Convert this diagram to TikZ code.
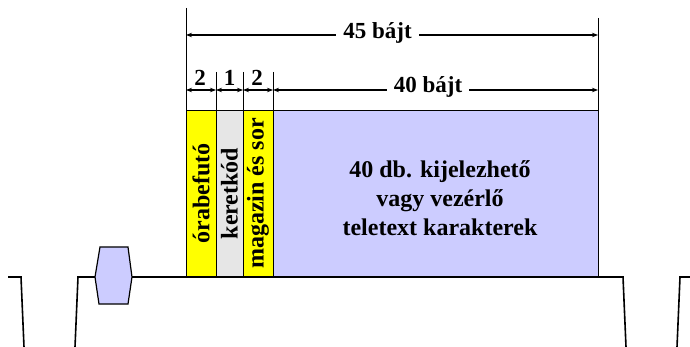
\documentclass[tikz,border=0pt]{standalone}
\usepackage{fontspec}
\setmainfont{Liberation Serif}
\usetikzlibrary{arrows.meta}
\definecolor{lav}{RGB}{204,204,255}
\definecolor{yel}{RGB}{255,255,0}
\definecolor{gry}{RGB}{230,230,230}
\newcommand\dimfont{\bfseries\fontsize{23}{26}\selectfont}
\newcommand\boxfont{\bfseries\fontsize{24}{29}\selectfont}
\newcommand\rotfont{\bfseries\fontsize{24}{26}\selectfont}
\tikzset{
  field/.style={draw=black, line width=0.8pt, inner sep=0pt, font=\rotfont},
  dimline/.style={line width=1.3pt, {Stealth[length=6pt,width=4.5pt]}-{Stealth[length=6pt,width=4.5pt]}},
  extline/.style={line width=0.6pt},
  dimlabel/.style={fill=white, inner xsep=7pt, inner ysep=1pt, font=\dimfont},
  smalllabel/.style={inner sep=0pt, font=\dimfont},
  wave/.style={line width=1.6pt},
}
\begin{document}
\begin{tikzpicture}[x=1pt, y=-1pt]
\useasboundingbox (0,0) rectangle (690,347);
% fields
\node[field, fill=yel, rotate=90, minimum width=167pt, minimum height=30pt] (f1) at (201,193.5) {órabefutó};
\node[field, fill=gry, rotate=90, minimum width=167pt, minimum height=27pt] (f2) at (229.5,193.5) {keretkód};
\node[field, fill=yel, rotate=90, minimum width=167pt, minimum height=30pt] (f3) at (258,193.5) {magazin és sor};
\node[field, fill=lav, minimum width=325pt, minimum height=167pt] (f4) at (435.5,193.5) {};
\node[align=center, font=\boxfont, inner sep=0pt] (t4) at (440,198) {40 db. kijelezhető\\vagy vezérlő\\teletext karakterek};
% extension lines
\coordinate (e0t) at (186,8);   \coordinate (e0b) at (186,110);
\coordinate (e1t) at (216,72);  \coordinate (e1b) at (216,110);
\coordinate (e2t) at (243,72);  \coordinate (e2b) at (243,110);
\coordinate (e3t) at (273,72);  \coordinate (e3b) at (273,110);
\coordinate (e4t) at (598,18);  \coordinate (e4b) at (598,110);
\foreach \i in {0,...,4} \draw[extline] (e\i t) -- (e\i b);
% dimension arrows
\coordinate (a45l) at (186,35); \coordinate (a45r) at (598,35);
\draw[dimline] (a45l) -- (a45r);
\node[dimlabel] (l45) at (377.5,33) {45 bájt};
\coordinate (b0) at (186,90); \coordinate (b1) at (216,90);
\coordinate (b2) at (243,90); \coordinate (b3) at (273,90);
\coordinate (b4) at (598,90);
\draw[dimline] (b0) -- (b1);
\draw[dimline] (b1) -- (b2);
\draw[dimline] (b2) -- (b3);
\draw[dimline] (b3) -- (b4);
\node[dimlabel] (l40) at (428,87) {40 bájt};
\node[smalllabel] (n2a) at (200,78) {2};
\node[smalllabel] (n1) at (229.5,78) {1};
\node[smalllabel] (n2b) at (257,78) {2};
% waveform
\draw[wave] (8,277) -- (21,277) -- (24,347);
\draw[wave] (75,347) -- (78,277) -- (95,277);
\draw[wave, fill=lav, line width=1.2pt] (95,277) -- (100,247) -- (128,247) -- (132,277) -- (128,304) -- (99,304) -- cycle;
\draw[wave] (132,277) -- (623,277) -- (626,347);
\draw[wave] (690,277) -- (680,277) -- (677,347);
\end{tikzpicture}
\end{document}
